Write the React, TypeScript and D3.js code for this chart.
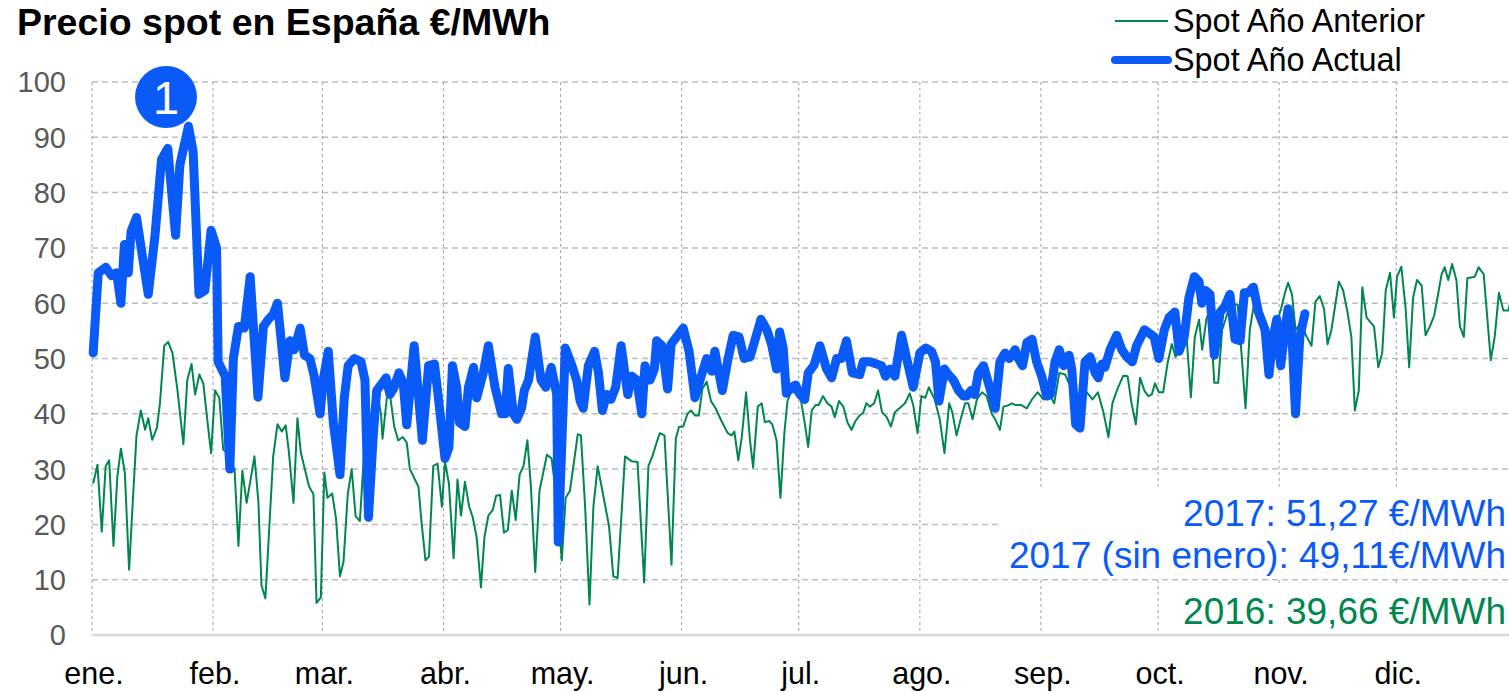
import * as d3 from 'd3';

// Daily spot price, [day of year, €/MWh]
const prevYear: [number, number][] = [
  [0.3,27.4],[1.4,30.8],[2.5,18.7],[3.5,30.5],[4.4,31.6],[5.5,16.1],[6.5,28.7],[7.4,33.7],[8.4,29.4],[9.5,11.8],
  [10.6,26.1],[11.4,36.1],[12.5,40.6],[13.6,37.1],[14.4,39.2],[15.4,35.3],[16.6,37.4],[17.4,41.9],[18.5,52.3],[19.5,53],
  [20.6,51],[21.9,44.2],[23.4,34.5],[24.4,46.1],[25.5,49],[26.4,43.5],[27.5,47.1],[28.5,45.5],[29.6,38.4],[30.5,32.9],
  [31.5,44.2],[32.6,42.9],[33.6,33.5],[34.6,33],[35.6,31],[36.5,30],[37.5,16.1],[38.5,29.7],[39.6,23.9],[41.6,32.3],
  [42.6,24.2],[43.4,9],[44.4,6.6],[46.4,32.3],[47.5,38.1],[48.6,36.8],[49.6,37.9],[50.4,33.2],[51.6,23.9],[52.6,39.2],
  [53.5,32.9],[54.5,30],[55.6,26.8],[56.7,25.5],[57.5,5.8],[58.6,6.8],[59.5,29.4],[60.3,24.8],[61.5,25.6],[62.5,21],
  [63.5,10.6],[64.4,13.2],[65.5,25.5],[66.5,30],[67.5,21.5],[68.6,20.6],[69.7,33.2],[70.6,36],[71.6,31],[72.6,38],
  [73.5,42],[74,40],[74.4,35.5],[75.5,42.9],[76.3,43.5],[77.4,37.7],[78.4,35.2],[79.6,35.8],[80.6,34.8],[81.4,30],
  [83.6,26.8],[84.4,20.3],[85.4,13.5],[86.3,14.2],[87.4,30.6],[88.5,31],[89.6,23.2],[90.4,31.3],[91.4,27.4],[92.6,13.9],
  [93.6,28.1],[94.5,21.6],[95.5,27.7],[96.6,23.2],[97.5,21.3],[98.5,17.7],[99.6,8.6],[100.5,17.7],[101.5,21.6],[102.6,22.6],
  [103.5,25.2],[104.5,25.3],[105.5,18.5],[106.5,19],[107.5,26.1],[108.5,20.8],[109.5,29],[110.5,30.6],[111.5,35.2],[112.4,26.8],
  [113.5,11.4],[114.6,26.1],[116.5,32.6],[117.7,31.9],[119.3,22.9],[120.3,13.5],[121.3,24.8],[122.4,26.1],[124.4,36.3],[125.2,36.1],
  [126.3,22.9],[127.4,5.5],[128.4,23.2],[129.5,30.5],[130.5,26.8],[132.4,19.7],[133.5,10.6],[134.6,10.3],[136.5,32.3],[138.2,31.4],
  [139.7,31.3],[141.4,9.5],[142.5,30.6],[143.5,32.3],[144.6,34.8],[145.4,36.5],[146.6,36.1],[148.4,12.7],[149.5,35.5],[150.3,37.6],
  [151.4,37.7],[152.5,40],[153.4,40.6],[154.4,39.7],[155.4,39.7],[156.3,44.5],[157.4,45.8],[158.5,42.3],[159.7,41],[161.2,38.7],
  [162.8,36.5],[163.8,36.1],[164.5,36.8],[165.5,31.6],[166.4,35.8],[167.5,43.9],[168.5,35.2],[169.3,30.3],[170.5,41.3],[171.5,41.9],
  [172.3,38.5],[173.4,38.7],[174.2,38.1],[175.3,35.2],[176.3,24.8],[177.3,36.5],[178.1,42.3],[179.1,44.2],[180.4,43.5],[181.5,42.6],
  [182.5,38.4],[183.4,34],[184.3,40.6],[185.3,41.6],[186.1,41.6],[187.2,43.2],[188.3,41.9],[189.4,41.3],[190.2,39.4],[191.3,42.3],
  [192.4,41.3],[193.5,38.4],[194.5,37.1],[195.5,38.7],[196.6,39.7],[197.5,40.2],[198.3,41.9],[199.2,41.3],[200.3,41.9],[201.3,44.2],
  [202.3,40.3],[203.5,39.4],[204.6,37.7],[205.6,40.3],[206.9,41.1],[208.2,41.9],[209.4,43.7],[210.3,41.6],[211.4,36.5],[212.4,43.2],
  [213.4,42.9],[214.3,44.8],[215.8,42.6],[217.1,39],[218.3,32.9],[219.5,41.9],[220.3,40.3],[221.4,36.1],[222.6,39.4],[223.6,41.9],
  [224.4,41.9],[225.5,39],[226.6,42.6],[227.9,43.9],[229.1,43.2],[230.4,40],[231.3,39],[232.5,37.1],[233.4,41.3],[234.5,41.5],
  [235.5,41.9],[236.4,41.6],[237.9,41.6],[239.4,41],[240.7,42.6],[242.2,43.9],[243.6,42.6],[244.9,43.9],[246.4,41.9],[247.7,47.4],
  [249.2,47.1],[250.5,45],[251.7,42.9],[253.5,42.3],[254.7,43.9],[256.2,42.6],[257.6,43.9],[259,40.3],[260.3,35.8],[261.3,41.9],
  [262.6,44.5],[264.1,46.9],[265.2,46.8],[266.2,41.9],[267.3,38.1],[268.4,46.5],[269.5,44.2],[270.5,43.2],[271.4,43.5],[272.2,45.5],
  [273.2,43.9],[274.3,43.9],[275.4,49],[276.5,52.6],[277.5,50.3],[278.6,51.6],[280.3,53.9],[281.4,43],[282.4,53.9],[283.5,57],
  [284.3,51.6],[285.4,57.2],[286.3,58.7],[287.4,45.6],[288.4,45.6],[289.4,55.2],[290.3,57.1],[291.4,59.7],[293.4,59.7],[294.4,50.6],
  [295.4,41],[296.5,55.2],[297.6,60],[298.7,58.4],[299.5,55.2],[300.8,51.9],[301.9,47.4],[302.9,55.2],[304.5,59],[305.5,61.9],
  [306.3,63.7],[307.3,61.6],[308.2,55.2],[309.7,56.5],[311,54],[312.3,52.3],[313.3,60.3],[314.4,61.3],[315.5,59],[316.4,52.6],
  [317.4,55.2],[319.3,63.9],[320.4,62.3],[321.5,58.4],[322.5,53.9],[323.4,40.6],[324.4,44.2],[325.3,62.9],[326.4,57.4],[328.3,55.8],
  [329.4,48.4],[330.4,51],[331.3,62.3],[332.4,65.5],[333.4,57.4],[334.2,64.8],[335.3,66.6],[336.4,59],[337.3,48.4],[338.3,61],
  [339.3,64.2],[340.5,63.2],[341.5,54.2],[342.6,55.8],[343.7,57.7],[344.7,61.6],[345.6,65.2],[346.4,66.5],[347.3,64.2],[348.3,67.1],
  [349.4,64.2],[350.3,55.8],[351.3,53.9],[352.2,64.5],[354.1,64.8],[355.1,66.5],[356.4,65.2],[358.2,49.7],[359.2,53.9],[360.3,61.9],
  [361.4,58.7],[362.7,58.7],[363.5,61],
];

const currYear: [number, number][] = [
  [0.3,51],[1.6,65.5],[3.5,66.5],[5,65],[6.3,65.5],[7.4,60],[8.3,70.6],[9.3,65.5],[10,73],[11.4,75.5],
  [14.4,61.6],[16.1,72],[17.8,86],[19.4,88],[21.4,72.3],[22.5,85],[24.7,92],[25.9,87.4],[27.4,61.6],[28.9,62.3],
  [30.5,73.2],[31.9,70],[32.3,49.4],[34.1,46.8],[35.3,30],[36.2,50],[37.5,55.8],[39,55.5],[40.5,64.8],[42.5,43],
  [43.9,55.8],[45.2,57.1],[46.4,58],[47.5,60],[49.4,46.5],[50.7,53.2],[51.8,51.6],[53.3,55.5],[54.4,50.6],[55.8,50],
  [56.9,46.8],[58.4,40],[59.2,46.1],[60.5,51.3],[61.8,38.4],[63.5,29],[64.6,42.9],[65.6,48.7],[67.2,50],[68.9,49.4],
  [69.9,46.1],[70.8,21.3],[72,35.8],[72.9,44.2],[75.3,46.5],[76.3,43.5],[77.2,44.5],[78.6,47.4],[79.7,45.5],[80.6,38],
  [82.5,52.3],[84.6,35.2],[86.2,48.7],[87.7,49],[88.7,42.9],[90.4,31.9],[91.4,33.9],[92.3,48.7],[93.4,44.8],[94.1,38.4],
  [95.5,37.7],[96.4,44.8],[97.7,48.4],[98.5,42.9],[100.2,47.4],[101.5,52.3],[103.2,44.8],[104.9,40],[105.8,40],[106.6,48.2],
  [107.9,40],[108.8,39],[110,41],[110.7,44.2],[111.8,46.1],[113.5,53.9],[115,46.1],[116.2,44.8],[117.6,48.4],[119,43.5],
  [119.4,16.8],[121.2,51.9],[122.9,48.7],[124.1,46.1],[125,42.3],[125.8,41],[127.1,48.7],[128.7,51.3],[129.7,47.4],[130.7,40.6],
  [131.8,43.5],[132.9,42.6],[134.1,44.8],[135.5,52.3],[137.2,43.5],[138.2,46.8],[139.5,46.1],[140.8,40],[141.6,48.7],[142.9,46.1],
  [144,48.1],[144.6,53.2],[146,52.3],[147.4,44.5],[148.3,52.6],[149.7,53.9],[151.4,55.5],[152.9,51.3],[154.4,42.9],[156,46.8],
  [157.4,50],[158.7,47.7],[159.5,51.3],[161.4,44.2],[162.9,50],[164.2,54.2],[165.7,53.9],[167,50],[168.5,50.3],[169.6,52.9],
  [171.3,57.1],[172.8,55.2],[174,52.6],[175.3,48.1],[176.1,54.8],[177,51.9],[177.8,43.7],[179.1,44.8],[180.2,45.2],[181.3,43.5],
  [182.5,42.6],[183.4,47.4],[184.9,48.8],[186.4,52.3],[188.1,48.1],[189.4,46.5],[190.7,50],[191.9,50],[193.2,53.2],[194.7,47.4],
  [196.6,47.1],[197.5,49.4],[199.2,49.4],[200.9,49],[202.2,48.7],[203.2,46.8],[204.3,48.1],[205.6,46.8],[207.3,54.2],[208.8,49.4],
  [210.3,44.8],[212,51],[213.5,51.9],[215,51.3],[216,49.4],[216.9,42.3],[218.3,48.1],[219.3,47.1],[220.6,46.1],[221.9,44.2],
  [223.2,43.2],[224,43.2],[225.1,44.2],[226,43.5],[227,47.4],[228.3,48.7],[230,44.5],[231.3,41],[232.5,49.4],[233.8,51],
  [234.9,50],[236.4,51.6],[237.2,50],[238.3,48.7],[239.4,52.9],[240.7,53.5],[241.9,49.4],[243.2,46.8],[244.5,43.2],[245.4,43.5],
  [246.6,49.4],[247.7,51.6],[248.8,48.7],[250.2,50.6],[250.9,48.1],[251.9,38.1],[253,37.4],[254.3,49.4],[255.6,50.3],[256.9,47.4],
  [257.7,46.5],[258.6,49],[259.4,48.4],[260.7,51.6],[262.4,54.2],[263.7,51.6],[265,50.3],[266.4,49.4],[267.5,52.3],[269.5,55.2],
  [270.9,54.5],[272,53.9],[273.2,50],[274.6,55.2],[275.8,57.4],[277.3,58.4],[278.4,51.3],[279.7,53.9],[280.9,61],[282.3,64.8],
  [283.5,63.9],[284.2,60],[285.2,62.3],[286.3,61.6],[287.4,50.6],[288.9,58.4],[290.1,59.4],[291.4,61.6],[292.7,53.5],[294,53.2],
  [295.1,61.9],[296.1,61.9],[297.4,62.9],[298.7,58.4],[300.4,55.2],[301.4,47.1],[302.5,53.9],[303.4,57.1],[304.4,48.7],[305.5,55.2],
  [306.3,59],[307.3,53.9],[308.2,40],[309.3,53.9],[310.6,58.1],
];

const monthStarts = [0, 31, 59, 90, 120, 151, 181, 212, 243, 273, 304, 334];
const monthLabels = ['ene.', 'feb.', 'mar.', 'abr.', 'may.', 'jun.', 'jul.', 'ago.', 'sep.', 'oct.', 'nov.', 'dic.'];
const yTicks = [0, 10, 20, 30, 40, 50, 60, 70, 80, 90, 100];
const averages = ['2017: 51,27 €/MWh', '2017 (sin enero): 49,11€/MWh', '2016: 39,66 €/MWh'];

const BLUE = '#0a5af8';
const GREEN = '#00864f';
const FONT = '"Liberation Sans", Arial, sans-serif';

export default function App() {
  const width = 1509;
  const height = 692;

  const x = d3.scaleLinear().domain([0, 365]).range([92, 92 + 365 * 3.905]);
  const y = d3.scaleLinear().domain([0, 100]).range([635, 82]);

  const line = d3.line<[number, number]>()
    .x(d => x(d[0]))
    .y(d => y(d[1]));

  return (
    <>
      <style>{'body{margin:0}'}</style>
      <svg width={width} height={height} style={{ display: 'block', fontFamily: FONT }}>
        <rect width={width} height={height} fill="white" />

        <text x={17} y={35} fontSize={37.5} fontWeight="bold" fill="#000">
          Precio spot en España €/MWh
        </text>

        {/* horizontal grid */}
        {yTicks.filter(t => t > 0).map(t => (
          <line key={t} x1={x(0)} x2={width} y1={y(t)} y2={y(t)}
            stroke="#bdbdbd" strokeWidth={1.5} strokeDasharray="6,4" />
        ))}
        {/* vertical month grid */}
        {monthStarts.map(m => (
          <line key={m} x1={x(m)} x2={x(m)} y1={y(100)} y2={y(0)}
            stroke="#a0a0a0" strokeWidth={1} strokeDasharray="3,3" />
        ))}
        <line x1={x(0)} x2={width} y1={y(0)} y2={y(0)} stroke="#d9d9d9" strokeWidth={2.5} />

        {/* y labels */}
        {yTicks.map(t => (
          <text key={t} x={66} y={y(t)} dy="0.36em" textAnchor="end" fontSize={29} fill="#595959">{t}</text>
        ))}
        {/* x labels */}
        {monthStarts.map((m, i) => (
          <text key={m} x={x(m) + 2} y={684} textAnchor="middle" fontSize={30.5} fill="#000">{monthLabels[i]}</text>
        ))}

        {/* average boxes */}
        <rect x={1002} y={487} width={width - 1002} height={91} fill="white" />
        <rect x={1180} y={586} width={width - 1180} height={47} fill="white" />
        <text x={1506} y={526} textAnchor="end" fontSize={37} fill={BLUE}>{averages[0]}</text>
        <text x={1506} y={568} textAnchor="end" fontSize={37} fill={BLUE}>{averages[1]}</text>
        <text x={1506} y={624} textAnchor="end" fontSize={37} fill={GREEN}>{averages[2]}</text>

        {/* series */}
        <path d={line(prevYear) || ''} fill="none" stroke={GREEN} strokeWidth={2} strokeLinejoin="round" />
        <path d={line(currYear) || ''} fill="none" stroke={BLUE} strokeWidth={9} strokeLinejoin="round" strokeLinecap="round" />

        {/* marker 1 */}
        <circle cx={166} cy={97} r={31} fill={BLUE} />
        <text x={166} y={114} textAnchor="middle" fontSize={47} fill="white">1</text>

        {/* legend */}
        <line x1={1115} x2={1168} y1={21} y2={21} stroke={GREEN} strokeWidth={2} />
        <text x={1173} y={32} fontSize={32.4} fill="#000">Spot Año Anterior</text>
        <line x1={1115} x2={1168} y1={60} y2={60} stroke={BLUE} strokeWidth={8} strokeLinecap="round" />
        <text x={1173} y={71} fontSize={32.4} fill="#000">Spot Año Actual</text>
      </svg>
    </>
  );
}
